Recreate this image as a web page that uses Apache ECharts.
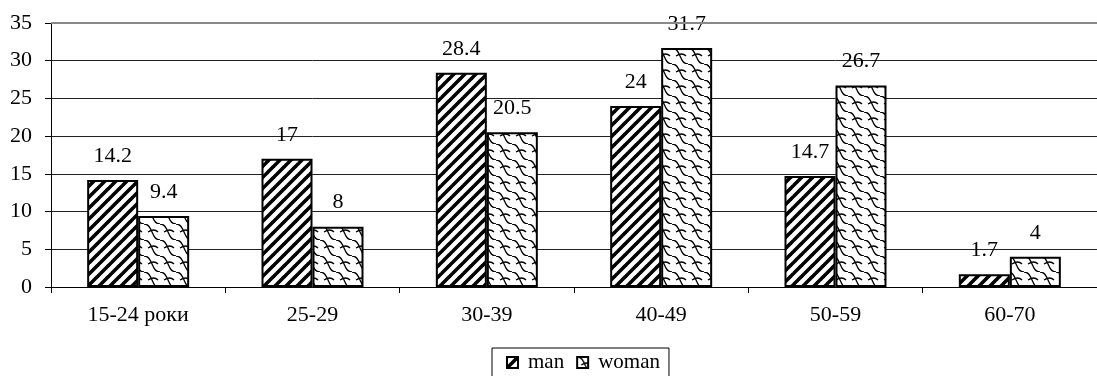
<!DOCTYPE html>
<html>
<head>
<meta charset="utf-8">
<script src="https://cdn.jsdelivr.net/npm/echarts@6/dist/echarts.min.js"></script>
<style>
html,body{margin:0;padding:0;background:#fff;}
#c{width:1097px;height:376px;}
</style>
</head>
<body>
<div id="c"></div>
<script>
const categories = ['15-24 роки', '25-29', '30-39', '40-49', '50-59', '60-70'];
const manValues = [14.2, 17, 28.4, 24, 14.7, 1.7];
const womanValues = [9.4, 8, 20.5, 31.7, 26.7, 4];
const seriesNames = ['man', 'woman'];
const yTicks = { min: 0, max: 35, interval: 5 };

function stripePattern() {
  const s = 11;
  const c = document.createElement('canvas');
  c.width = s; c.height = s;
  const g = c.getContext('2d');
  g.fillStyle = '#fff'; g.fillRect(0, 0, s, s);
  g.strokeStyle = '#000'; g.lineWidth = 3.6;
  for (let k = -1; k <= 1; k++) {
    g.beginPath();
    g.moveTo(k * s - 1, s + 1);
    g.lineTo(k * s + s + 1, -1);
    g.stroke();
  }
  return c;
}
function shinglePattern() {
  const s = 16;
  const c = document.createElement('canvas');
  c.width = s; c.height = s;
  const g = c.getContext('2d');
  g.fillStyle = '#fff'; g.fillRect(0, 0, s, s);
  g.strokeStyle = '#000'; g.lineWidth = 1.3;
  for (let k = -1; k <= 1; k++) {
    g.beginPath();
    g.moveTo(k * s + 0, 0);
    g.bezierCurveTo(k * s + 9, 0, k * s + 7, 16, k * s + 16, 16);
    g.stroke();
    g.beginPath();
    g.moveTo(k * s + 4, 8);
    g.quadraticCurveTo(k * s + 10, 4, k * s + 14, 8);
    g.stroke();
  }
  return c;
}

const font = 'Liberation Serif';
const chart = echarts.init(document.getElementById('c'), null, { renderer: 'canvas' });
chart.setOption({
  animation: false,
  backgroundColor: '#fff',
  grid: { left: 51, right: -11, top: 23, bottom: 89, containLabel: false },
  legend: {
    data: seriesNames,
    left: 492, top: 348,
    padding: [4, 9, 12, 14],
    borderColor: '#000', borderWidth: 1,
    itemWidth: 11, itemHeight: 11, itemGap: 12,
    textStyle: { fontFamily: font, fontSize: 21, color: '#000', padding: [0, 0, 0, 5] },
    icon: 'rect'
  },
  xAxis: {
    type: 'category',
    data: categories,
    axisLine: { lineStyle: { color: '#000', width: 1 } },
    axisTick: { show: true, length: 6, lineStyle: { color: '#000' } },
    axisLabel: { margin: 17, fontFamily: font, fontSize: 22, color: '#000' },
    splitLine: { show: false }
  },
  yAxis: {
    type: 'value',
    min: yTicks.min, max: yTicks.max, interval: yTicks.interval,
    axisLine: { show: true, lineStyle: { color: '#000', width: 1 } },
    axisTick: { show: true, length: 6, lineStyle: { color: '#000' } },
    axisLabel: { margin: 19, fontFamily: font, fontSize: 22, color: '#000' },
    splitLine: { show: true, lineStyle: { color: '#222', width: 1 } }
  },
  series: [
    {
      name: seriesNames[0], type: 'bar', data: manValues,
      barWidth: 51, barGap: '0%',
      itemStyle: { color: { image: stripePattern(), repeat: 'repeat' }, borderColor: '#000', borderWidth: 2 },
      label: { show: true, position: 'top', distance: 13, fontFamily: font, fontSize: 22, color: '#000' },
      markLine: {
        silent: true, symbol: 'none', label: { show: false },
        lineStyle: { color: '#888', width: 2, type: 'solid' },
        data: [{ yAxis: yTicks.max }]
      }
    },
    {
      name: seriesNames[1], type: 'bar', data: womanValues,
      barWidth: 51, barGap: '0%',
      itemStyle: { color: { image: shinglePattern(), repeat: 'repeat' }, borderColor: '#000', borderWidth: 2 },
      label: { show: true, position: 'top', distance: 13, fontFamily: font, fontSize: 22, color: '#000' }
    }
  ]
});
</script>
</body>
</html>
